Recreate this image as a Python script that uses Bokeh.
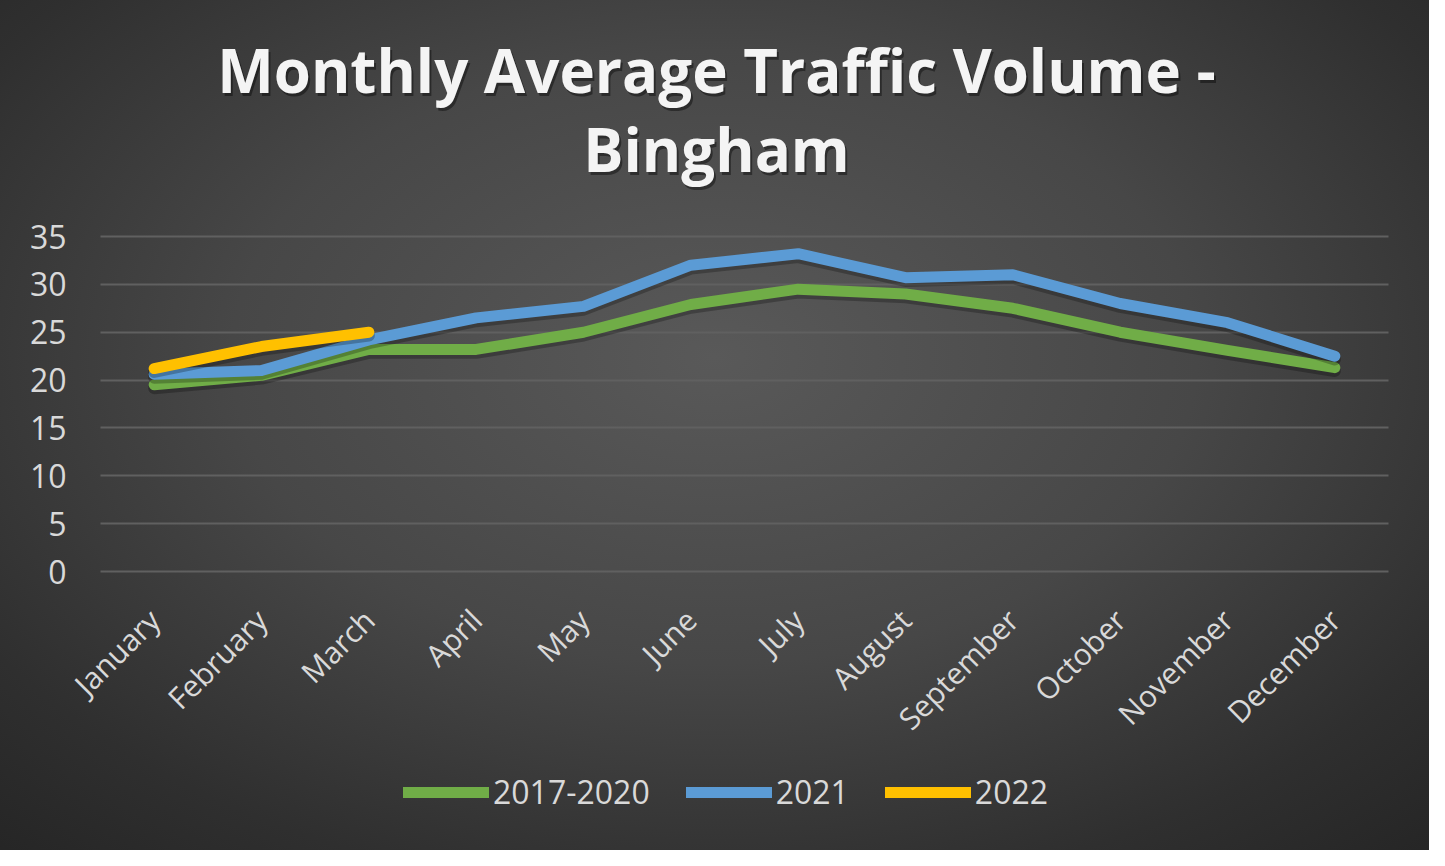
import math
from bokeh.plotting import figure
from bokeh.models import (ColumnDataSource, FactorRange, Range1d, Legend, LegendItem,
                          Label, FixedTicker, Grid)
from bokeh.transform import dodge
from bokeh.embed import file_html
from bokeh.resources import INLINE

months = ["January", "February", "March", "April", "May", "June", "July",
          "August", "September", "October", "November", "December"]
avg_2017_2020 = [19.5, 20.5, 23.2, 23.2, 25.0, 27.9, 29.5, 29.0, 27.5, 25.0, 23.1, 21.3]
vol_2021 = [20.6, 21.0, 24.2, 26.5, 27.7, 32.0, 33.2, 30.7, 31.0, 28.0, 26.0, 22.5]
vol_2022 = [21.2, 23.5, 25.0]
series_names = ["2017-2020", "2021", "2022"]
title_lines = ["Monthly Average Traffic Volume -", "Bingham"]
y_ticks = [0, 5, 10, 15, 20, 25, 30, 35]

# ---- layout constants (pixels) ----
W, H = 1429, 850
LEFT = 72                   # frame left edge (a little room for the rotated "January")
CAT_W = 107.33              # pixels per month
PAD = (100 - LEFT) / CAT_W  # extra category units on each side of the 12 months
Y35, Y0 = 236, 571          # pixel rows of the 35 and 0 gridlines
ppu = (Y0 - Y35) / 35.0
y_high = 35 + Y35 / ppu
y_low = 35 - (H - Y35) / ppu

p = figure(width=W, height=H,
           x_range=FactorRange(factors=months, range_padding=PAD, range_padding_units="absolute"),
           y_range=Range1d(y_low, y_high), output_backend="svg", toolbar_location=None,
           min_border_left=LEFT, min_border_right=W - LEFT - int(round(CAT_W * (12 + 2 * PAD))),
           min_border_top=0, min_border_bottom=0)
p.border_fill_color = None
p.background_fill_color = None
p.outline_line_color = None
p.styles = {"background": "radial-gradient(ellipse 75% 80% at 50% 42%, #595959 0%, #474747 45%, #2f2f2f 80%, #252525 100%)"}

p.yaxis.ticker = FixedTicker(ticks=y_ticks)
p.xgrid.grid_line_color = None
p.xaxis.fixed_location = 0
for ax in (p.xaxis[0], p.yaxis[0]):
    ax.axis_line_color = None
    ax.major_tick_line_color = None
    ax.minor_tick_line_color = None
    ax.major_label_text_font = "Open Sans"
    ax.major_label_text_color = "#d9d9d9"
p.yaxis.major_label_text_font_size = "32px"
p.yaxis.major_label_standoff = 0
p.xaxis.major_label_text_font_size = "30px"
p.xaxis.major_label_orientation = math.pi / 4
p.xaxis.major_label_standoff = 37

# horizontal gridlines limited to the 12 month slots
if "cross_bounds" in Grid.properties():
    p.ygrid.grid_line_color = "#606060"
    p.ygrid.grid_line_width = 2
    p.ygrid.cross_bounds = (0, 12)
else:
    p.ygrid.grid_line_color = None
    p.segment(x0=[0] * len(y_ticks), x1=[12] * len(y_ticks), y0=y_ticks, y1=y_ticks,
              line_color="#606060", line_width=2)

colors = ["#70ad47", "#5b9bd5", "#ffc000"]
datasets = [avg_2017_2020, vol_2021, vol_2022]
renderers = []
for vals, col in zip(datasets, colors):
    src = ColumnDataSource(dict(x=months[:len(vals)], y=vals))
    p.line(x="x", y=dodge("y", -0.35), source=src, line_color="black", line_alpha=0.25,
           line_width=12, line_cap="round", line_join="round")
    r = p.line(x="x", y="y", source=src, line_color=col, line_width=11,
               line_cap="round", line_join="round")
    renderers.append(r)

legend = Legend(items=[LegendItem(label=n, renderers=[r]) for n, r in zip(series_names, renderers)],
                orientation="horizontal", location=(331, 37),
                glyph_width=86, glyph_height=36, label_standoff=4, spacing=36,
                padding=0, margin=0, label_text_font="Open Sans", label_text_font_size="32px",
                label_text_color="#d9d9d9", background_fill_alpha=0, border_line_alpha=0,
                label_height=36)
p.add_layout(legend, "center")

# two-line title with a soft drop shadow
title_cx = -PAD + (716 - LEFT) / CAT_W
title_base = [35 + (Y35 - 69) / ppu, 35 + (Y35 - 148) / ppu]
for txt, by in zip(title_lines, title_base):
    p.add_layout(Label(x=title_cx + 2 / CAT_W, y=by - 3 / ppu, text=txt,
                       text_font="Open Sans", text_font_style="bold", text_font_size="60px",
                       text_color="black", text_alpha=0.4, text_align="center",
                       text_baseline="alphabetic"))
    p.add_layout(Label(x=title_cx, y=by, text=txt,
                       text_font="Open Sans", text_font_style="bold", text_font_size="60px",
                       text_color="#f4f4f4", text_align="center", text_baseline="alphabetic"))

open("out.html", "w").write(file_html(p, INLINE))
